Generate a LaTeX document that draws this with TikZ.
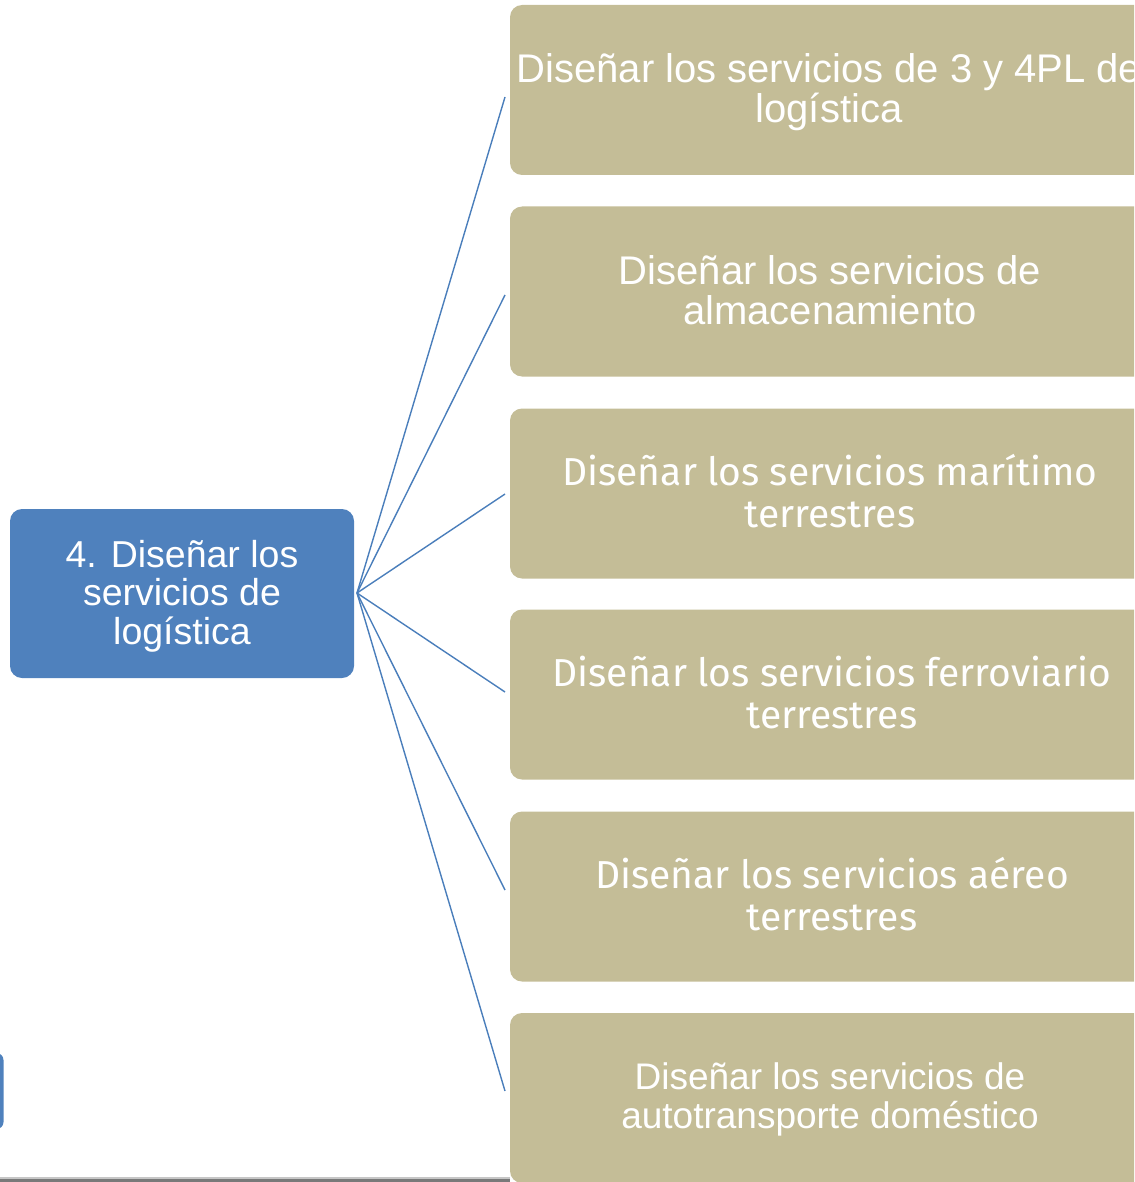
\documentclass[tikz,border=0pt]{standalone}
\usepackage{fontspec}
\setmainfont{Liberation Sans}
\newfontfamily\fira{Fira Sans}
\definecolor{hubblue}{HTML}{4F81BD}
\definecolor{tan}{HTML}{C4BD97}
\definecolor{lineblue}{HTML}{4A7EBB}
\tikzset{
  tanbox/.style={fill=tan, rounded corners=12pt, minimum width=640pt, minimum height=170pt,
    inner sep=0pt, align=center, text=white},
  hubbox/.style={fill=hubblue, rounded corners=12pt, minimum width=344pt, minimum height=169pt,
    inner sep=0pt, align=center, text=white},
  link/.style={draw=lineblue, line width=1.4pt},
}
\begin{document}
\begin{tikzpicture}[x=1pt,y=-1pt]
\useasboundingbox (0,0) rectangle (1134,1182);
\begin{scope}
\clip (0,0) rectangle (1134,1182);
% bottom grey rule and blue sliver
\fill[gray!45] (0,1177) rectangle (510,1179);
\fill[gray!95!black] (0,1179) rectangle (510,1183);
\fill[hubblue, rounded corners=7pt] (-20,1053) rectangle (3.5,1129);

\node[hubbox] (hub) at (182,593.5) {};
\node[font=\fontsize{37.5}{38.5}\selectfont, text=white, align=center] (hubt) at (182,596) {4. Diseñar los\\servicios de\\logística};

\node[tanbox] (b1) at (830,90) {};
\node[tanbox] (b2) at (830,291.5) {};
\node[tanbox] (b3) at (830,493.5) {};
\node[tanbox] (b4) at (830,694.5) {};
\node[tanbox] (b5) at (830,896.5) {};
\node[tanbox] (b6) at (830,1098) {};

\node[font=\fontsize{40}{40}\selectfont, text=white, align=center] (t1) at (829,92) {Diseñar los servicios de 3 y 4PL de\\logística};
\node[font=\fontsize{40}{40}\selectfont, text=white, align=center] (t2) at (830,290) {Diseñar los servicios de\\almacenamiento};
\node[font=\fira\fontsize{39}{42}\selectfont, text=white, align=center] (t3) at (830,491) {Diseñar los servicios marítimo\\terrestres};
\node[font=\fira\fontsize{39}{42}\selectfont, text=white, align=center] (t4) at (832,693) {Diseñar los servicios ferroviario\\terrestres};
\node[font=\fira\fontsize{39}{42}\selectfont, text=white, align=center] (t5) at (832,894) {Diseñar los servicios aéreo\\terrestres};
\node[font=\fontsize{37}{39}\selectfont, text=white, align=center] (t6) at (830,1099) {Diseñar los servicios de\\autotransporte doméstico};

\coordinate (hc) at (357,593);
\coordinate (e1) at (505,97);
\coordinate (e2) at (505,295);
\coordinate (e3) at (505,494);
\coordinate (e4) at (505,692);
\coordinate (e5) at (505,890);
\coordinate (e6) at (505,1091);
\foreach \i in {1,...,6} \draw[link] (hc) -- (e\i);
\end{scope}
\end{tikzpicture}
\end{document}
